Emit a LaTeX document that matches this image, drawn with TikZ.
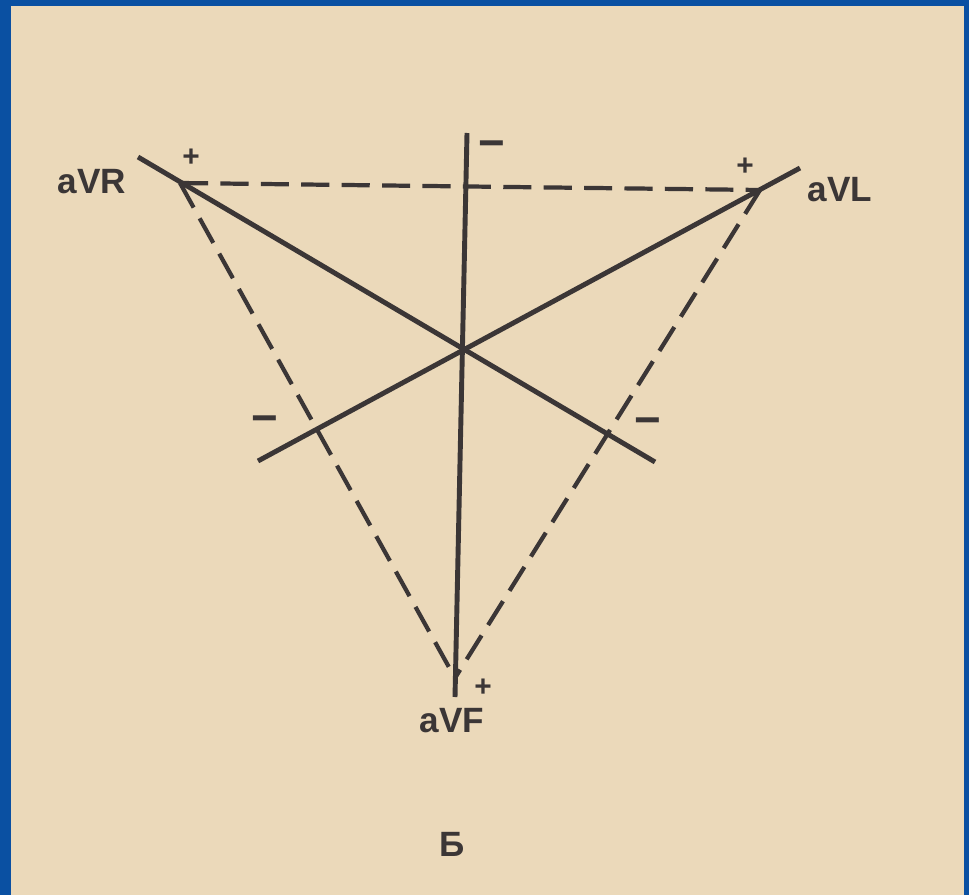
\documentclass[tikz,border=0pt]{standalone}
\usepackage{fontspec}
\setmainfont{Liberation Sans}
\usepackage{xcolor}
\usetikzlibrary{calc}
\definecolor{frameblue}{HTML}{0A50A2}
\definecolor{paper}{HTML}{EBD9BA}
\definecolor{ink}{HTML}{3B3636}
\tikzset{
  axis/.style={ink, line width=2.8pt},
  side/.style={ink, line width=2.4pt, dash pattern=on 16pt off 7pt},
  lead/.style={ink, font=\fontsize{20}{24}\selectfont\bfseries, inner sep=0pt},
  plus/.style={ink, font=\fontsize{17}{20}\selectfont\bfseries, inner sep=0pt},
  minus/.style={ink, font=\fontsize{26}{30}\selectfont\bfseries, inner sep=0pt}
}
\begin{document}
\begin{tikzpicture}[x=0.02cm, y=-0.02cm]
\useasboundingbox (0,0) rectangle (969,895);
\fill[frameblue] (0,0) rectangle (969,895);
\fill[paper] (11,6) rectangle (964,895);
\coordinate (R) at (180,183);
\coordinate (L) at (760,190);
\coordinate (F) at (455,678);
\coordinate (Rend) at (138,157);
\coordinate (Rtail) at (655,462);
\coordinate (Lend) at (800,168);
\coordinate (Ltail) at (258,461);
\coordinate (Ftop) at (467,133);
\coordinate (Fend) at (455,697);
\draw[side] (R) -- (L);
\draw[side] (R) -- (F);
\draw[side] (L) -- (F);
\draw[axis] (Rend) -- (Rtail);
\draw[axis] (Lend) -- (Ltail);
\draw[axis] (Ftop) -- (Fend);
\node[lead] (aVR) at (92,182) {aVR};
\node[lead] (aVL) at (840,190) {aVL};
\node[lead] (aVF) at (452,721) {aVF};
\node[lead] (B) at (452,844) {Б};
\node[plus] (pR) at (191,158) {+};
\node[plus] (pL) at (745,167) {+};
\node[plus] (pF) at (483,688) {+};
\node[minus] (mF) at (492,150) {−};
\node[minus] (mL) at (265,425) {−};
\node[minus] (mR) at (648,427) {−};
\end{tikzpicture}
\end{document}
